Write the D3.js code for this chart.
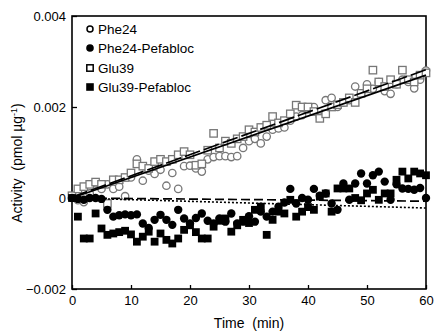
<!DOCTYPE html>
<html><head><meta charset="utf-8">
<script src="https://cdn.jsdelivr.net/npm/d3@7"></script>
<style>body{margin:0;background:#fff}svg{display:block}text{font-family:"Liberation Sans",Arial,sans-serif;white-space:pre}</style>
</head><body><svg id="c" width="434" height="334"></svg>
<script>
// time in minutes
const minutes = d3.range(0, 61);
// activity values in units of 0.001 pmol/ug
const phe24 = [0.0,-0.05,-0.09,0.1,0.32,0.2,0.3,0.2,0.25,0.04,0.45,0.85,0.38,0.6,0.53,0.62,0.27,0.55,0.2,0.7,0.71,0.65,0.58,0.85,0.9,0.92,0.92,0.9,0.92,1.1,1.25,1.3,1.2,1.35,1.5,1.53,1.55,1.7,1.79,1.82,1.95,2.0,1.79,2.15,2.2,2.0,2.1,2.15,2.45,2.3,2.5,2.4,2.55,2.35,2.29,2.5,2.6,2.55,2.41,2.6,2.8];
const glu39 = [0.05,0.2,0.25,0.3,0.35,0.3,-0.12,0.4,0.4,0.45,0.55,0.75,0.7,0.65,0.8,0.85,0.8,0.85,0.95,1.02,0.95,0.72,0.75,1.05,1.42,1.1,1.25,1.2,1.3,1.35,1.5,1.45,1.55,1.6,1.79,1.65,1.7,1.85,2.04,2.0,2.0,1.9,1.75,1.85,2.0,2.05,2.1,2.2,2.1,2.3,2.4,2.81,2.55,2.45,2.6,2.5,2.81,2.6,2.55,2.7,2.75];
const phe24Pef = [0.0,-0.02,-0.04,0.0,0.0,-0.02,-0.26,-0.41,-0.38,-0.36,-0.38,-0.36,-0.56,-0.66,-0.48,-0.37,-0.48,-0.59,-0.26,-0.45,-0.56,-0.44,-0.34,-0.5,-0.56,-0.45,-0.52,-0.34,-0.56,-0.52,-0.4,-0.52,-0.3,-0.41,-0.3,-0.19,-0.1,0.2,-0.12,0.0,-0.04,0.2,0.05,0.1,-0.12,-0.26,0.32,-0.04,0.32,0.54,0.32,0.5,0.58,0.36,-0.04,0.3,0.21,0.2,0.18,0.22,0.0];
const glu39Pef = [0.0,-0.41,-0.89,-0.89,-0.34,-0.67,-0.81,-0.78,-0.75,-0.72,-0.8,-0.96,-0.85,-0.74,-0.96,-0.78,-0.92,-1.0,-0.89,-0.7,-0.6,-0.75,-0.89,-0.89,-0.63,-0.5,-0.45,-0.74,-0.6,-0.48,-0.55,-0.26,-0.19,-0.81,-0.48,-0.3,-0.34,-0.04,-0.41,-0.3,-0.2,-0.26,0.03,0.1,-0.3,0.21,0.21,0.21,0.0,-0.05,0.1,0.18,-0.04,0.1,0.1,0.4,0.58,0.43,0.58,0.54,0.5];
// fitted lines: [x0, y0, x1, y1] in same units
const fitPhe24 = [0, 0.0, 60, 2.70];
const fitGlu39 = [0, 0.02, 60, 2.82];
const fitPhe24Pef = [0, 0.0, 60, -0.07];
const fitGlu39Pef = [0, 0.0, 60, -0.22];
const xTicks = [0, 10, 20, 30, 40, 50, 60];
const yTicks = [-0.002, 0, 0.002, 0.004];
const legendLabels = ["Phe24", "Phe24-Pefabloc", "Glu39", "Glu39-Pefabloc"];

const svg = d3.select("#c");
const L = 72, R = 426, T = 16, B = 289;
const x = d3.scaleLinear().domain([0, 60]).range([L, R]);
const y = d3.scaleLinear().domain([-0.002, 0.004]).range([B, T]);
const v = d => d / 1000;

// frame
svg.append("rect").attr("x", L).attr("y", T).attr("width", R - L).attr("height", B - T)
  .attr("fill", "none").attr("stroke", "#000").attr("stroke-width", 1.6);

// axes
const xAxis = d3.axisBottom(x).tickValues(xTicks).tickSize(-4).tickPadding(7).tickFormat(d3.format("d"));
const gx = svg.append("g").attr("transform", `translate(0,${B})`).call(xAxis);
const yAxis = d3.axisLeft(y).tickValues(yTicks).tickSize(-5).tickPadding(6)
  .tickFormat(d => d === 0 ? "0" : d3.format(".3f")(d));
const gy = svg.append("g").attr("transform", `translate(${L},0)`).call(yAxis);
[gx, gy].forEach(g => {
  g.select(".domain").remove();
  g.selectAll("line").attr("stroke", "#000").attr("stroke-width", 1.3);
  g.selectAll("text").attr("font-size", 13).attr("fill", "#000")
    .style("font-family", '"Liberation Sans",Arial,sans-serif');
});

// markers
const sq = 7.4, rad = 3.7;
function openCircles(data) {
  svg.append("g").selectAll("circle").data(data).join("circle")
    .attr("cx", (d, i) => x(minutes[i])).attr("cy", d => y(v(d))).attr("r", rad)
    .attr("fill", "#fff").attr("stroke", "#777").attr("stroke-width", 1.3);
}
function openSquares(data) {
  svg.append("g").selectAll("rect").data(data).join("rect")
    .attr("x", (d, i) => x(minutes[i]) - sq / 2).attr("y", d => y(v(d)) - sq / 2)
    .attr("width", sq).attr("height", sq)
    .attr("fill", "#fff").attr("stroke", "#777").attr("stroke-width", 1.3);
}
function filledCircles(data) {
  svg.append("g").selectAll("circle").data(data).join("circle")
    .attr("cx", (d, i) => x(minutes[i])).attr("cy", d => y(v(d))).attr("r", 4.2).attr("fill", "#000");
}
function filledSquares(data) {
  svg.append("g").selectAll("rect").data(data).join("rect")
    .attr("x", (d, i) => x(minutes[i]) - 3.9).attr("y", d => y(v(d)) - 3.9)
    .attr("width", 7.8).attr("height", 7.8).attr("fill", "#000");
}
openCircles(phe24);
openSquares(glu39);
filledCircles(phe24Pef);
filledSquares(glu39Pef);

// fit lines
function fit(f, dash, w) {
  svg.append("line").attr("x1", x(f[0])).attr("y1", y(v(f[1])))
    .attr("x2", x(f[2])).attr("y2", y(v(f[3])))
    .attr("stroke", "#000").attr("stroke-width", w).attr("stroke-dasharray", dash);
}
fit(fitPhe24, null, 1.7);
fit(fitGlu39, "16,4", 1.7);
fit(fitPhe24Pef, "9,4", 1.7);
fit(fitGlu39Pef, "2,2", 1.6);

// legend
const lg = svg.append("g");
const rowsY = [29, 48, 68, 87];
legendLabels.forEach((lab, i) => {
  const cy = rowsY[i], cx = 90;
  if (i === 0) lg.append("circle").attr("cx", cx).attr("cy", cy).attr("r", 3).attr("fill", "#fff").attr("stroke", "#000").attr("stroke-width", 1.5);
  if (i === 1) lg.append("circle").attr("cx", cx).attr("cy", cy).attr("r", 3.8).attr("fill", "#000");
  if (i === 2) lg.append("rect").attr("x", cx - 3.2).attr("y", cy - 3.2).attr("width", 6.4).attr("height", 6.4).attr("fill", "#fff").attr("stroke", "#000").attr("stroke-width", 1.5);
  if (i === 3) lg.append("rect").attr("x", cx - 3.8).attr("y", cy - 3.8).attr("width", 7.6).attr("height", 7.6).attr("fill", "#000");
  lg.append("text").attr("x", 98).attr("y", cy + 5).attr("font-size", 13.5).attr("fill", "#000").text(lab);
});

// axis titles
svg.append("text").attr("x", 249).attr("y", 328).attr("text-anchor", "middle")
  .attr("font-size", 14).attr("fill", "#000").text("Time  (min)");
const yt = svg.append("text").attr("transform", "translate(22,163) rotate(-90)")
  .attr("text-anchor", "middle").attr("font-size", 14).attr("fill", "#000");
yt.append("tspan").text("Activity  (pmol µg");
yt.append("tspan").attr("dy", -5).attr("font-size", 9).text("-1");
yt.append("tspan").attr("dy", 5).text(")");
</script></body></html>
